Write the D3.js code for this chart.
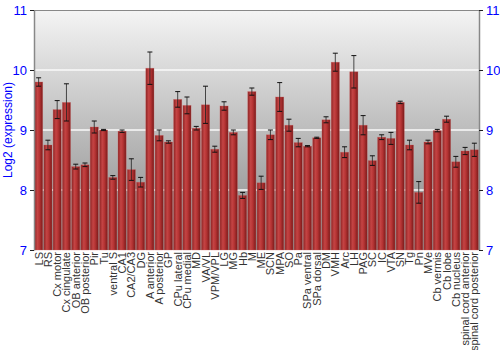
<!DOCTYPE html>
<html>
<head>
<meta charset="utf-8">
<script src="https://cdn.jsdelivr.net/npm/d3@7"></script>
<style>
  body { margin: 0; background: #fff; }
  text { font-family: "Liberation Sans", Arial, sans-serif; }
</style>
</head>
<body>
<div id="chart"></div>
<script>
const regions = ["LS", "RS", "Cx motor", "Cx cingulate", "OB anterior", "OB posterior", "Pir", "Tu",
  "ventral S", "CA1", "CA2/CA3", "DG", "A anterior", "A posterior", "GP", "CPu lateral", "CPu medial",
  "MD", "VA/VL", "VPM/VPL", "LG", "MG", "Hb", "M", "ME", "SCN", "MPA", "SO", "Pa", "SPa ventral",
  "SPa dorsal", "DM", "VMH", "Arc", "LH", "PAG", "SC", "IC", "VTA", "SN", "Tg", "Pn", "MVe",
  "Cb vermis", "Cb lobe", "Cb nucleus", "spinal cord anterior", "spinal cord posterior"];

const expression = [9.80, 8.75, 9.34, 9.46, 8.39, 8.42, 9.05, 9.00,
  8.21, 8.98, 8.34, 8.13, 10.03, 8.91, 8.80, 9.51, 9.41,
  9.03, 9.42, 8.68, 9.40, 8.96, 7.91, 9.64, 8.12, 8.92, 9.55, 9.08, 8.79, 8.73,
  8.87, 9.17, 10.13, 8.63, 9.97, 9.08, 8.49, 8.88, 8.86, 9.46, 8.75, 7.96, 8.80,
  8.99, 9.18, 8.47, 8.65, 8.67];

const errors = [0.07, 0.08, 0.15, 0.31, 0.04, 0.03, 0.10, 0.01,
  0.03, 0.02, 0.18, 0.08, 0.27, 0.09, 0.02, 0.13, 0.14,
  0.03, 0.31, 0.05, 0.07, 0.04, 0.05, 0.06, 0.11, 0.08, 0.24, 0.10, 0.07, 0.01,
  0.01, 0.05, 0.15, 0.09, 0.27, 0.16, 0.08, 0.04, 0.10, 0.02, 0.08, 0.18, 0.03,
  0.02, 0.05, 0.09, 0.06, 0.11];

const yTicks = [7, 8, 9, 10, 11];

const width = 500, height = 350;
const margin = {top: 10, right: 21, bottom: 100, left: 34};

const data = regions.map((r, i) => ({region: r, value: expression[i], err: errors[i]}));

const svg = d3.select("#chart").append("svg")
  .attr("width", width)
  .attr("height", height);

const defs = svg.append("defs");

const bgGrad = defs.append("linearGradient")
  .attr("id", "bg")
  .attr("x1", 0).attr("y1", 0).attr("x2", 0).attr("y2", 1);
bgGrad.append("stop").attr("offset", "0%").attr("stop-color", "#f4f4f4");
bgGrad.append("stop").attr("offset", "100%").attr("stop-color", "#858585");

const barGrad = defs.append("linearGradient")
  .attr("id", "bar")
  .attr("x1", 0).attr("y1", 0).attr("x2", 1).attr("y2", 0);
barGrad.append("stop").attr("offset", "0%").attr("stop-color", "#8e2424");
barGrad.append("stop").attr("offset", "35%").attr("stop-color", "#c44444");
barGrad.append("stop").attr("offset", "60%").attr("stop-color", "#b63434");
barGrad.append("stop").attr("offset", "100%").attr("stop-color", "#7a1a1a");

const innerW = width - margin.left - margin.right;
const innerH = height - margin.top - margin.bottom;

const x = d3.scaleBand()
  .domain(regions)
  .range([margin.left, margin.left + innerW])
  .paddingInner(0.12)
  .paddingOuter(0.06);

const y = d3.scaleLinear()
  .domain([7, 11])
  .range([margin.top + innerH, margin.top]);

// background
svg.append("rect")
  .attr("x", margin.left)
  .attr("y", margin.top)
  .attr("width", innerW)
  .attr("height", innerH)
  .attr("fill", "url(#bg)");

// grid lines
svg.append("g")
  .selectAll("line")
  .data(yTicks.filter(t => t > 7 && t < 11))
  .join("line")
  .attr("x1", margin.left)
  .attr("x2", margin.left + innerW)
  .attr("y1", d => y(d))
  .attr("y2", d => y(d))
  .attr("stroke", "#fafafa")
  .attr("stroke-width", 1.5);

// bars
svg.append("g")
  .selectAll("rect")
  .data(data)
  .join("rect")
  .attr("x", d => x(d.region))
  .attr("y", d => y(d.value))
  .attr("width", x.bandwidth())
  .attr("height", d => y(7) - y(d.value))
  .attr("fill", "url(#bar)")
  .attr("stroke", "#d06060")
  .attr("stroke-opacity", 0.5)
  .attr("stroke-width", 0.6);

// error bars
const eb = svg.append("g");
const cx = d => x(d.region) + x.bandwidth() / 2;
eb.selectAll("line.v")
  .data(data)
  .join("line")
  .attr("class", "v")
  .attr("x1", cx).attr("x2", cx)
  .attr("y1", d => y(d.value + d.err))
  .attr("y2", d => y(d.value - d.err))
  .attr("stroke", "#222")
  .attr("stroke-opacity", 0.8)
  .attr("stroke-width", 1);
eb.selectAll("line.top")
  .data(data)
  .join("line")
  .attr("class", "top")
  .attr("x1", d => cx(d) - 2.5).attr("x2", d => cx(d) + 2.5)
  .attr("y1", d => y(d.value + d.err))
  .attr("y2", d => y(d.value + d.err))
  .attr("stroke", "#111")
  .attr("stroke-width", 1);
eb.selectAll("line.bot")
  .data(data)
  .join("line")
  .attr("class", "bot")
  .attr("x1", d => cx(d) - 2.5).attr("x2", d => cx(d) + 2.5)
  .attr("y1", d => y(d.value - d.err))
  .attr("y2", d => y(d.value - d.err))
  .attr("stroke", "#111")
  .attr("stroke-width", 1);

// top border
svg.append("line")
  .attr("x1", margin.left).attr("x2", margin.left + innerW)
  .attr("y1", margin.top + 0.5).attr("y2", margin.top + 0.5)
  .attr("stroke", "#888");

// axes
const leftAxis = svg.append("g")
  .attr("transform", `translate(${margin.left},0)`)
  .call(d3.axisLeft(y).tickValues(yTicks).tickFormat(d3.format("d")).tickSizeInner(4).tickSizeOuter(0));
const rightAxis = svg.append("g")
  .attr("transform", `translate(${margin.left + innerW},0)`)
  .call(d3.axisRight(y).tickValues(yTicks).tickFormat(d3.format("d")).tickSizeInner(4).tickSizeOuter(0));

[leftAxis, rightAxis].forEach(a => {
  a.select(".domain").attr("stroke", "#888").attr("stroke-width", 1.5);
  a.selectAll(".tick line").attr("stroke", "#222");
  a.selectAll(".tick text")
    .attr("fill", "#0000ff")
    .style("font-size", "13px")
    .style("font-family", "'Liberation Sans', Arial, sans-serif");
});

// x labels
svg.append("g")
  .selectAll("text")
  .data(regions)
  .join("text")
  .attr("transform", d => `translate(${x(d) + x.bandwidth() / 2 + 4},${y(7) + 2}) rotate(-90)`)
  .attr("text-anchor", "end")
  .attr("fill", "#333")
  .style("font-size", "11px")
  .text(d => d);

// y title
svg.append("text")
  .attr("transform", `translate(12,${margin.top + innerH / 2}) rotate(-90)`)
  .attr("text-anchor", "middle")
  .attr("fill", "#0000ff")
  .style("font-size", "12px")
  .text("Log2 (expression)");
</script>
</body>
</html>
